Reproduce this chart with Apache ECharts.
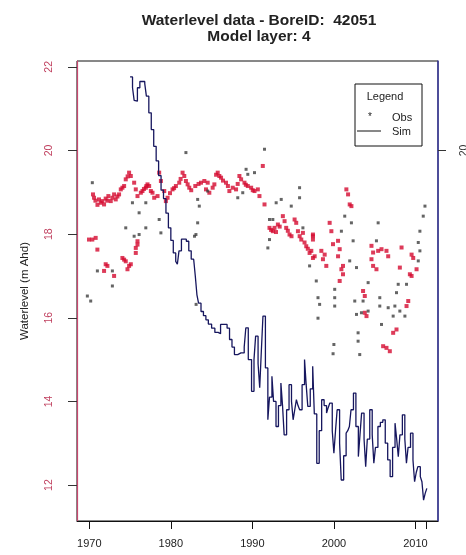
<!DOCTYPE html>
<html>
<head>
<meta charset="utf-8">
<script src="https://cdn.jsdelivr.net/npm/echarts@6/dist/echarts.min.js"></script>
<style>
html,body{margin:0;padding:0;background:#fff;}
#chart{width:466px;height:555px;}
</style>
</head>
<body>
<div id="chart"></div>
<script>
var titleLine1 = 'Waterlevel data - BoreID:  42051';
var titleLine2 = 'Model layer: 4';
var yAxisTitle = 'Waterlevel (m Ahd)';
var xTickValues = [1970, 1980, 1990, 2000, 2010, 2011.3];
var xLabelValues = [1970, 1980, 1990, 2000, 2010];
var yTickValues = [12, 14, 16, 18, 20, 22];
var rightTickValues = [20];

// Simulated water level [year, m AHD]
var simData = [
[1975.0,21.76],[1975.3,21.5],[1975.5,21.2],[1975.7,21.18],[1975.9,21.5],[1976.2,21.65],[1976.5,21.65],[1976.8,21.6],
[1977.0,21.3],[1977.3,20.9],[1977.6,20.5],[1977.9,20.1],[1978.2,19.75],[1978.5,19.4],[1978.8,19.05],[1979.1,18.85],
[1979.4,18.5],[1979.7,18.15],[1980.0,17.85],[1980.3,17.55],[1980.6,17.35],[1980.8,17.28],[1981.0,17.6],[1981.3,17.88],
[1981.6,17.88],[1981.9,17.83],[1982.2,17.6],[1982.5,17.4],[1982.8,17.36],[1983.0,17.0],[1983.2,16.55],[1983.4,16.35],
[1983.7,16.15],[1984.0,16.05],[1984.3,15.95],[1984.6,15.85],[1985.0,15.75],[1985.4,15.65],[1985.8,15.62],[1986.1,15.84],
[1986.5,15.84],[1986.9,15.75],[1987.2,15.48],[1987.5,15.3],[1987.8,15.12],[1988.2,15.16],[1988.6,15.16],[1989.0,15.3],
[1989.2,15.76],[1989.5,15.0],[1989.9,14.24],[1990.2,15.0],[1990.4,15.56],[1990.7,14.9],[1990.9,14.33],[1991.1,15.2],
[1991.3,16.04],[1991.6,14.8],[1991.9,13.56],[1992.1,14.1],[1992.4,14.6],[1992.6,14.0],[1992.9,13.4],[1993.2,13.9],
[1993.5,14.44],[1993.7,13.9],[1993.9,13.2],[1994.2,13.8],[1994.5,14.4],[1994.8,14.0],[1995.0,13.56],[1995.2,13.8],
[1995.4,14.04],[1995.6,13.9],[1995.8,13.8],[1996.1,14.4],[1996.4,15.0],[1996.6,14.4],[1996.8,13.88],[1997.1,14.3],
[1997.4,14.84],[1997.6,13.7],[1997.9,12.52],[1998.2,13.3],[1998.5,14.04],[1998.8,13.9],[1999.1,13.72],[1999.3,13.85],
[1999.5,13.96],[1999.8,13.3],[2000.0,12.76],[2000.2,13.3],[2000.4,13.8],[2000.7,13.0],[2000.9,12.12],[2001.2,12.7],
[2001.5,13.24],[2001.7,13.3],[2001.9,13.4],[2002.1,13.8],[2002.4,14.2],[2002.7,13.4],[2003.0,12.68],[2003.2,13.2],
[2003.4,13.72],[2003.7,13.1],[2003.9,12.44],[2004.1,13.1],[2004.4,13.8],[2004.7,13.2],[2004.9,12.52],[2005.1,12.9],
[2005.4,13.4],[2005.7,13.5],[2006.0,13.56],[2006.3,13.0],[2006.6,12.6],[2006.9,12.2],[2007.2,12.9],[2007.5,13.48],
[2007.7,13.1],[2007.9,12.68],[2008.1,13.2],[2008.4,13.68],[2008.7,13.1],[2008.9,12.52],[2009.1,12.9],[2009.4,13.24],
[2009.7,12.6],[2009.9,12.08],[2010.1,12.3],[2010.3,12.44],[2010.6,12.2],[2010.8,12.08],[2011.0,11.64],[2011.2,11.8],
[2011.4,11.92]
];

// Observed water level, dense (red) points [year, m AHD]
var obsRed = [
[1970.45,18.95],[1970.58,18.87],[1971.19,18.83],[1971.40,18.75],[1971.60,18.79],[1971.81,18.71],[1972.01,18.85],[1972.34,18.91],
[1972.63,18.79],[1972.83,18.87],[1973.04,18.95],[1973.24,18.83],[1973.65,18.95],[1973.86,19.07],[1974.06,19.11],[1974.27,19.15],
[1974.47,19.31],[1974.88,19.47],[1975.09,19.39],[1975.50,19.23],[1975.70,19.07],[1975.91,18.91],[1976.32,18.99],[1976.52,19.03],
[1976.93,19.11],[1977.14,19.19],[1977.34,19.15],[1977.55,19.03],[1977.75,18.99],[1977.96,18.87],[1978.37,18.91],[1978.57,19.47],
[1978.78,19.27],[1979.19,19.03],[1979.39,18.79],[1979.60,18.87],[1980.21,19.07],[1980.62,19.15],[1981.03,19.23],[1981.44,19.47],
[1981.65,19.39],[1981.85,19.27],[1982.06,19.19],[1982.26,19.11],
[1970.75,18.80],[1971.0,18.70],[1972.2,18.80],[1973.45,18.90],[1974.7,19.38],[1976.7,19.08],[1977.0,19.15],[1979.9,18.98],
[1980.4,19.10],[1981.2,19.32],[1982.5,19.05],[1983.0,19.15],[1983.4,19.20],
[1969.96,17.87],[1970.37,17.87],[1970.78,17.91],[1970.99,17.63],[1975.91,17.83],[1975.91,17.75],[1975.70,17.67],[1975.70,17.55],
[1974.06,17.43],[1974.27,17.39],[1974.47,17.35],[1974.88,17.24],[1975.09,17.28],[1974.68,17.16],[1972.01,17.28],[1972.22,17.24],
[1971.81,17.12],[1973.04,17.0],
[1983.70,19.23],[1984.11,19.27],[1984.52,19.23],[1985.13,19.11],[1985.34,19.19],[1985.75,19.47],[1985.95,19.39],[1986.16,19.35],
[1986.77,19.23],[1987.18,19.03],[1987.59,19.11],[1988.0,19.07],[1988.41,19.39],[1988.62,19.31],[1989.03,19.23],[1989.44,19.15],
[1989.85,19.11],[1990.26,19.03],[1990.67,19.07],[1990.87,18.91],[1991.28,19.63],[1991.49,18.71],[1992.10,18.15],[1992.51,18.07],
[1992.72,18.15],[1993.13,18.23],[1993.74,18.43],[1993.95,18.31],[1994.15,18.15],[1994.56,17.99],[1995.18,18.35],[1995.38,18.27],
[1995.59,18.07],[1996.0,17.87],[1996.20,18.03],[1996.61,17.71],[1997.02,17.55],[1997.43,17.43],[1997.43,17.95],[1984.31,19.07],
[1984.72,18.99],
[1985.55,19.42],[1986.4,19.28],[1987.0,19.15],[1988.2,19.20],[1989.2,19.18],[1990.05,19.05],[1992.3,18.10],[1992.9,18.05],
[1993.35,18.18],[1994.35,18.08],[1994.8,17.95],[1995.8,17.95],[1996.4,17.80],[1996.8,17.65],
[2001.53,19.07],[2001.74,18.95],[2001.94,18.71],[2002.15,18.67],[1997.43,17.99],[1997.43,17.87],[1997.23,17.60],[1997.64,17.47],
[1998.46,17.60],[1998.87,17.51],[1998.66,17.40],[1999.07,17.24],[1999.48,18.27],[1999.69,18.07],[1999.89,17.76],[2000.51,17.84],
[2000.71,17.64],[2000.51,17.47],[2000.92,17.16],[2001.12,17.04],[2000.71,16.88],[2004.61,17.72],[2004.81,17.56],[2004.61,17.40],
[2004.81,17.24],[2005.22,17.16],[2005.43,17.60],[2005.84,17.64],[2006.45,17.60],[2006.66,17.47],[2008.30,17.68],[2009.53,17.51],
[2009.73,17.43],[2009.32,17.04],[2009.53,17.0],[2010.14,17.16],[2008.09,17.20],[2003.58,16.64],[2003.79,16.52],[2003.79,16.12],
[2004.0,16.04],[2006.04,15.32],[2006.45,15.28],[2006.86,15.20],[2009.12,16.40],[2008.91,16.28],[2007.68,15.72],[2007.27,15.64],
[2001.12,17.24]
];

// Observed water level, isolated (dark) points [year, m AHD]
var obsGray = [
[1970.37,19.23],[1975.29,18.75],[1976.11,18.51],[1976.93,18.75],[1974.47,18.15],[1975.50,17.95],[1976.11,17.99],[1976.93,18.15],
[1978.57,18.35],[1978.78,18.03],[1981.85,19.95],[1982.9,17.95],[1983.1,16.32],[1970.99,17.12],[1972.83,17.12],[1972.83,16.76],
[1969.76,16.52],[1970.17,16.40],
[1991.49,20.03],[1989.23,19.55],[1989.44,19.43],[1990.26,19.47],[1988.21,18.87],[1988.82,18.99],[1995.79,19.11],[1995.79,18.87],
[1992.92,18.75],[1993.54,18.83],[1994.77,18.67],[1992.10,18.35],[1992.51,18.35],[1992.10,17.87],[1991.90,17.67],[1983.29,18.83],
[1983.49,18.67],[1983.29,18.27],[1983.08,17.99],[1984.52,19.03],[1996.20,18.15],[1997.02,17.24],
[2011.17,18.67],[2010.96,18.43],[2010.55,18.07],[2010.35,17.80],[2010.55,17.60],[2010.35,17.36],[2008.91,16.80],[2007.89,16.80],
[2007.68,16.60],[2007.48,16.28],[2008.09,16.16],[2008.71,16.04],[2007.27,16.04],[2005.84,15.84],[2005.43,18.27],[2004.20,16.16],
[2003.58,16.40],[2002.56,16.40],[2003.38,16.12],[2002.77,16.08],[2002.97,15.64],[2002.97,15.44],[2003.17,15.12],[2002.15,18.27],
[2002.36,17.84],[2001.33,18.43],[2000.92,18.07],[2001.94,17.36],[2002.77,17.20],[2004.20,16.84],[2005.63,16.48],[2005.63,16.28],
[2006.66,16.24],[1998.05,16.48],[1998.25,16.32],[1998.05,15.99],[2000.10,16.68],[2000.10,16.48],[2000.10,16.28],[1997.84,16.88],
[2005.22,17.84],[1999.9,15.14],[2000.0,15.36]
];

var font = '"Liberation Sans", Arial, sans-serif';
var chart = echarts.init(document.getElementById('chart'), null, {renderer: 'canvas'});
chart.setOption({
  animation: false,
  backgroundColor: '#ffffff',
  title: {
    text: titleLine1 + '\n' + titleLine2,
    left: 254, top: 8, textAlign: 'center',
    textStyle: {fontFamily: font, fontSize: 15.5, fontWeight: 'bold', color: '#222', lineHeight: 16}
  },
  grid: {left: 77, right: 28, top: 61, bottom: 34, show: true, borderColor: '#111', borderWidth: 1,
    containLabel: false, outerBoundsMode: 'none'},
  xAxis: {
    type: 'value', min: 1968.49, max: 2012.77,
    splitLine: {show: false},
    axisLine: {show: true, onZero: false, lineStyle: {color: '#111', width: 1}},
    axisTick: {show: true, length: 8, customValues: xTickValues, lineStyle: {color: '#111'}},
    axisLabel: {customValues: xLabelValues, margin: 17, fontFamily: font, fontSize: 11, color: '#222',
      formatter: function (v) { return String(v); }}
  },
  yAxis: [{
    type: 'value', min: 11.14, max: 22.14, position: 'left',
    name: yAxisTitle, nameLocation: 'middle', nameGap: 46,
    nameTextStyle: {fontFamily: font, fontSize: 11.5, color: '#222'},
    splitLine: {show: false},
    axisLine: {show: true, onZero: false, lineStyle: {color: '#c84870', width: 1.2}},
    axisTick: {show: true, length: 9, customValues: yTickValues, lineStyle: {color: '#333'}},
    axisLabel: {customValues: yTickValues, rotate: 90, margin: 22, fontFamily: font, fontSize: 10.5, color: '#c0405f',
      formatter: function (v) { return String(v); }}
  }, {
    type: 'value', min: 11.14, max: 22.14, position: 'right',
    splitLine: {show: false},
    axisLine: {show: true, onZero: false, lineStyle: {color: '#3a3aa0', width: 1.5}},
    axisTick: {show: true, length: 8, customValues: rightTickValues, lineStyle: {color: '#333'}},
    axisLabel: {customValues: rightTickValues, rotate: 90, margin: 21, fontFamily: font, fontSize: 10.5, color: '#333',
      formatter: function (v) { return String(v); }}
  }],
  series: [{
    name: 'Obs', type: 'scatter', data: obsRed, symbol: 'rect', symbolSize: 4,
    itemStyle: {color: '#d40a30'}, yAxisIndex: 0, z: 3
  }, {
    name: 'Obs2', type: 'scatter', data: obsGray, symbol: 'rect', symbolSize: 3,
    itemStyle: {color: '#3e3e3e'}, yAxisIndex: 0, z: 3
  }, {
    name: 'Sim', type: 'line', data: simData, step: 'end', showSymbol: false, symbol: 'none',
    lineStyle: {color: '#16165e', width: 1.3}, yAxisIndex: 0, z: 4
  }],
  graphic: [
    {type: 'rect', shape: {x: 355, y: 84, width: 67, height: 62}, style: {fill: '#fff', stroke: '#111', lineWidth: 1}, z: 10},
    {type: 'text', x: 385, y: 97, style: {text: 'Legend', fontFamily: font, fontSize: 11, fill: '#222', align: 'center', verticalAlign: 'middle'}, z: 11},
    {type: 'text', x: 370, y: 117, style: {text: '*', fontFamily: font, fontSize: 10, fill: '#222', align: 'center', verticalAlign: 'middle'}, z: 11},
    {type: 'text', x: 392, y: 118, style: {text: 'Obs', fontFamily: font, fontSize: 11, fill: '#222', align: 'left', verticalAlign: 'middle'}, z: 11},
    {type: 'line', shape: {x1: 357, y1: 131, x2: 381, y2: 131}, style: {stroke: '#111', lineWidth: 1}, z: 11},
    {type: 'text', x: 392, y: 132, style: {text: 'Sim', fontFamily: font, fontSize: 11, fill: '#222', align: 'left', verticalAlign: 'middle'}, z: 11}
  ]
});
</script>
</body>
</html>
